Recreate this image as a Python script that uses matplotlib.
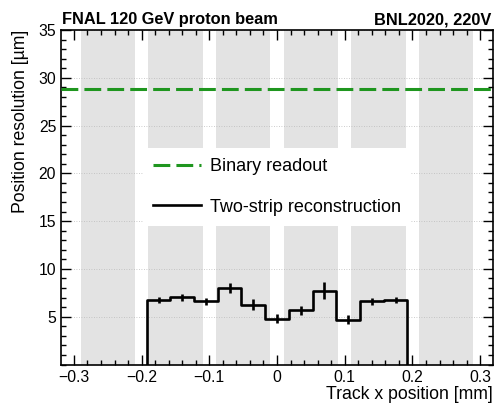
import numpy as np
import matplotlib
matplotlib.use('Agg')
import matplotlib.pyplot as plt
from matplotlib.ticker import MultipleLocator, FixedLocator

plt.rcParams['font.family'] = ['Liberation Sans', 'DejaVu Sans']

# Strip layout (mm): 0.1 mm pitch, gray = metal strips
strip_centers = [-0.25, -0.15, -0.05, 0.05, 0.15, 0.25]
strip_width = 0.08

# Two-strip reconstruction resolution per track-x bin
bin_edges = np.linspace(-0.1925, 0.1925, 12)
resolution = [6.72, 7.03, 6.62, 8.01, 6.27, 4.81, 5.68, 7.73, 4.70, 6.62, 6.72]
res_err = [0.30, 0.35, 0.35, 0.52, 0.60, 0.45, 0.45, 0.90, 0.45, 0.35, 0.30]

# Binary readout: pitch / sqrt(12)
pitch_um = 100.0
binary_res = pitch_um / np.sqrt(12)

xtick_vals = [-0.3, -0.2, -0.1, 0.0, 0.1, 0.2, 0.3]
xtick_labels = ['\u22120.3', '\u22120.2', '\u22120.1', '0', '0.1', '0.2', '0.3']
ytick_vals = [5, 10, 15, 20, 25, 30, 35]

fig = plt.figure(figsize=(4.94, 4.05), dpi=100)
ax = fig.add_axes([0.1235, 0.10, 0.8745, 0.826])

for c in strip_centers:
    ax.axvspan(c - strip_width / 2, c + strip_width / 2, color='#e3e3e3', lw=0, zorder=0)

ax.set_xlim(-0.319, 0.319)
ax.set_ylim(0, 35)

for y in ytick_vals:
    ax.axhline(y, color='#bbbbbb', lw=0.6, ls=(0, (1, 2)), zorder=1)

ax.axhline(binary_res, color='#1f961f', lw=2.2, ls=(0, (5.5, 2)), zorder=3,
           label='Binary readout')

# histogram drawn as a closed step outline down to zero
xs = np.repeat(bin_edges, 2)
ys = np.concatenate([[0], np.repeat(resolution, 2), [0]])
ax.plot(xs, ys, color='black', lw=1.9, zorder=4, label='Two-strip reconstruction')
centers = 0.5 * (bin_edges[1:] + bin_edges[:-1])
ax.errorbar(centers, resolution, yerr=res_err, fmt='none', ecolor='black',
            elinewidth=1.9, capsize=0, zorder=4)

ax.xaxis.set_major_locator(FixedLocator(xtick_vals))
ax.set_xticklabels(xtick_labels)
ax.xaxis.set_minor_locator(MultipleLocator(0.02))
ax.yaxis.set_major_locator(FixedLocator(ytick_vals))
ax.yaxis.set_minor_locator(MultipleLocator(1))
ax.tick_params(which='both', direction='in', top=True, right=True, labelsize=11.3, width=1)
ax.tick_params(which='major', length=7)
ax.tick_params(which='minor', length=3.5)
ax.tick_params(axis='x', which='major', pad=4)
for s in ax.spines.values():
    s.set_linewidth(1.2)

ax.set_xlabel('Track x position [mm]', loc='right', fontsize=12.7, labelpad=0.5)
ax.set_ylabel('Position resolution [\u00b5m]', loc='top', fontsize=12.7, labelpad=7)

ax.text(0.003, 1.008, 'FNAL 120 GeV proton beam', transform=ax.transAxes,
        ha='left', va='bottom', fontsize=11.8, fontweight='bold')
ax.text(0.997, 1.008, 'BNL2020, 220V', transform=ax.transAxes,
        ha='right', va='bottom', fontsize=11.8, fontweight='bold')

leg = ax.legend(loc='center', bbox_to_anchor=(0.5, 0.531), fontsize=13,
                frameon=True, fancybox=False, framealpha=1, facecolor='white',
                edgecolor='none', handlelength=2.66, handletextpad=0.55,
                labelspacing=1.3, borderpad=0.55)
leg.set_zorder(5)

fig.savefig('out.png', dpi=100)
